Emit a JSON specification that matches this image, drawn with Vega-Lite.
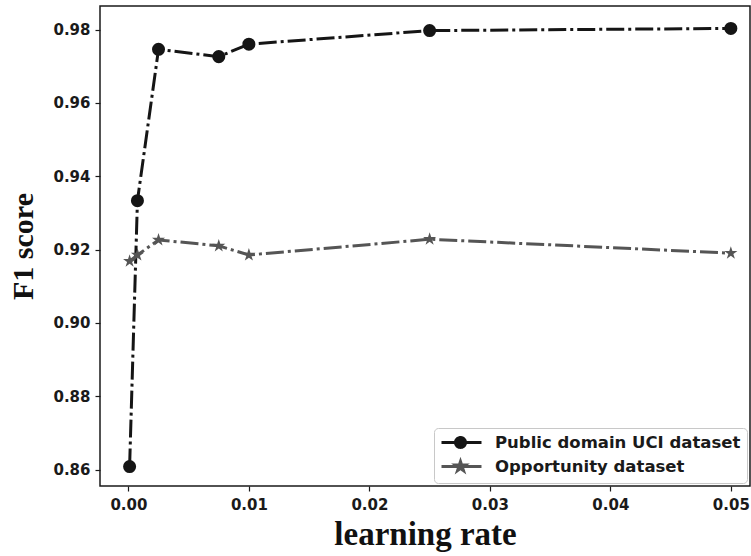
{
  "$schema": "https://vega.github.io/schema/vega-lite/v6.json",
  "width": 650,
  "height": 480,
  "autosize": {"type": "none"},
  "padding": {"left": 100, "top": 6, "right": 1, "bottom": 70},
  "background": "white",
  "config": {
    "view": {"stroke": "#1a1a1a", "strokeWidth": 1.5},
    "axis": {
      "grid": false,
      "domain": false,
      "tickColor": "#1a1a1a",
      "tickSize": 5,
      "tickWidth": 1.2,
      "labelFont": "DejaVu Sans",
      "labelFontWeight": "bold",
      "labelFontSize": 15,
      "labelColor": "#1a1a1a",
      "titleFont": "Liberation Serif",
      "titleFontWeight": "bold",
      "titleColor": "#111111"
    },
    "legend": {
      "labelFont": "DejaVu Sans",
      "labelFontWeight": "bold",
      "labelFontSize": 16.5,
      "labelColor": "#1a1a1a",
      "labelLimit": 400
    }
  },
  "data": {
    "values": [
      {"series": "Public domain UCI dataset", "lr": 0.0001, "f1": 0.8608},
      {"series": "Public domain UCI dataset", "lr": 0.00075, "f1": 0.9333},
      {"series": "Public domain UCI dataset", "lr": 0.0025, "f1": 0.9746},
      {"series": "Public domain UCI dataset", "lr": 0.0075, "f1": 0.9726},
      {"series": "Public domain UCI dataset", "lr": 0.01, "f1": 0.976},
      {"series": "Public domain UCI dataset", "lr": 0.025, "f1": 0.9797},
      {"series": "Public domain UCI dataset", "lr": 0.05, "f1": 0.9803},
      {"series": "Opportunity dataset", "lr": 0.0001, "f1": 0.9168},
      {"series": "Opportunity dataset", "lr": 0.00075, "f1": 0.9185},
      {"series": "Opportunity dataset", "lr": 0.0025, "f1": 0.9226},
      {"series": "Opportunity dataset", "lr": 0.0075, "f1": 0.921},
      {"series": "Opportunity dataset", "lr": 0.01, "f1": 0.9185},
      {"series": "Opportunity dataset", "lr": 0.025, "f1": 0.9228},
      {"series": "Opportunity dataset", "lr": 0.05, "f1": 0.919}
    ]
  },
  "encoding": {
    "x": {
      "field": "lr",
      "type": "quantitative",
      "title": "learning rate",
      "scale": {"domain": [-0.002357, 0.05159], "nice": false, "zero": false},
      "axis": {"values": [0, 0.01, 0.02, 0.03, 0.04, 0.05], "format": ".2f", "labelPadding": 6, "titlePadding": 6, "titleFontSize": 33, "labelFlush": false}
    },
    "y": {
      "field": "f1",
      "type": "quantitative",
      "title": "F1 score",
      "scale": {"domain": [0.8555, 0.98641], "nice": false, "zero": false},
      "axis": {"values": [0.86, 0.88, 0.9, 0.92, 0.94, 0.96, 0.98], "format": ".2f", "labelPadding": 5, "titlePadding": 14, "titleFontSize": 30}
    },
    "color": {
      "field": "series",
      "type": "nominal",
      "sort": ["Public domain UCI dataset", "Opportunity dataset"],
      "scale": {"domain": ["Public domain UCI dataset", "Opportunity dataset"], "range": ["#151515", "#555555"]},
      "legend": {
        "title": null,
        "orient": "bottom-right",
        "offset": 3,
        "padding": 6,
        "strokeColor": "#c8c8c8",
        "fillColor": "white",
        "cornerRadius": 4,
        "symbolSize": 196,
        "labelOffset": 38,
        "rowPadding": 1,
        "symbolStrokeWidth": 3,
        "encode": {
          "symbols": {
            "update": {
              "strokeWidth": {"value": 3},
              "strokeDash": {"value": [1, 0]},
              "opacity": {"value": 1}
            }
          }
        }
      }
    }
  },
  "layer": [
    {
      "mark": {"type": "point", "filled": true, "opacity": 0},
      "encoding": {
        "shape": {
          "field": "series",
          "type": "nominal",
          "scale": {
            "domain": ["Public domain UCI dataset", "Opportunity dataset"],
            "range": [
              "M-1,0L4.714,0M1.0,0A0.714,0.714 0 1,1 2.428,0A0.714,0.714 0 1,1 1.0,0Z",
              "M-1,0L4.714,0M1.714,-0.714L1.874,-0.221L2.393,-0.221L1.973,0.084L2.134,0.578L1.714,0.273L1.294,0.578L1.455,0.084L1.035,-0.221L1.554,-0.221Z"
            ]
          },
          "legend": null
        }
      }
    },
    {
      "transform": [{"filter": "datum.series === 'Public domain UCI dataset'"}],
      "mark": {"type": "line", "strokeWidth": 3, "strokeDash": [18, 4, 3, 4]}
    },
    {
      "transform": [{"filter": "datum.series === 'Public domain UCI dataset'"}],
      "mark": {"type": "point", "filled": true, "opacity": 1, "shape": "circle", "size": 170}
    },
    {
      "transform": [{"filter": "datum.series === 'Opportunity dataset'"}],
      "mark": {"type": "line", "strokeWidth": 3, "strokeDash": [18, 4, 3, 4]}
    },
    {
      "transform": [{"filter": "datum.series === 'Opportunity dataset'"}],
      "mark": {"type": "point", "filled": true, "opacity": 1, "size": 190, "shape": "M0,-1L0.2245,-0.309L0.951,-0.309L0.363,0.118L0.588,0.809L0,0.382L-0.588,0.809L-0.363,0.118L-0.951,-0.309L-0.2245,-0.309Z"}
    }
  ]
}
